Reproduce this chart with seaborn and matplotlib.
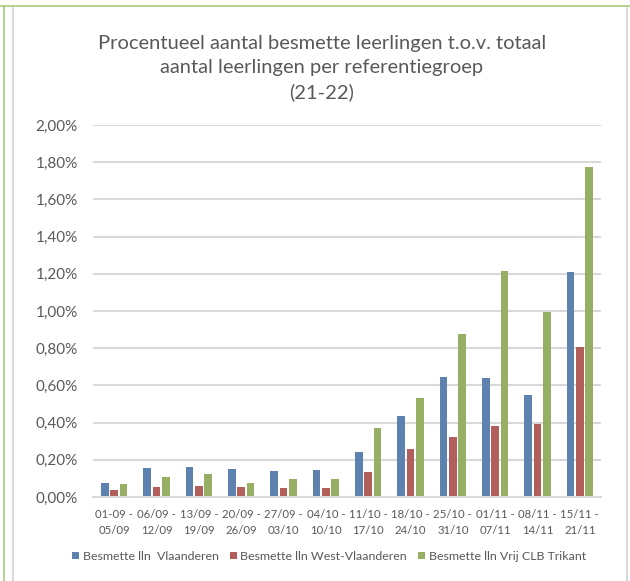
import pandas as pd
import matplotlib
matplotlib.use('Agg')
import matplotlib.pyplot as plt
import seaborn as sns
from matplotlib.lines import Line2D
from matplotlib.ticker import FuncFormatter, MultipleLocator

# data (percent)
weeks = ['01-09 -\n05/09', '06/09 -\n12/09', '13/09 -\n19/09', '20/09 -\n26/09',
         '27/09 -\n03/10', '04/10 -\n10/10', '11/10 -\n17/10', '18/10 -\n24/10',
         '25/10 -\n31/10', '01/11 -\n07/11', '08/11 -\n14/11', '15/11 -\n21/11']
series = ['Besmette lln  Vlaanderen', 'Besmette lln West-Vlaanderen',
          'Besmette lln Vrij CLB Trikant']
vlaanderen = [0.075, 0.154, 0.163, 0.152, 0.140, 0.143, 0.243, 0.437, 0.645, 0.641, 0.548, 1.208]
west_vl = [0.036, 0.054, 0.057, 0.052, 0.048, 0.048, 0.133, 0.256, 0.322, 0.380, 0.390, 0.806]
trikant = [0.070, 0.106, 0.126, 0.077, 0.095, 0.095, 0.372, 0.530, 0.878, 1.217, 0.997, 1.772]
colors = ['#4F81BD', '#C0504D', '#9BBB59']

rows = []
for name, vals in zip(series, [vlaanderen, west_vl, trikant]):
    for w, v in zip(weeks, vals):
        rows.append({'week': w, 'serie': name, 'pct': v})
df = pd.DataFrame(rows)

sns.set_style('white')
plt.rcParams['font.family'] = ['Lato', 'DejaVu Sans']
txt = '#595959'

fig = plt.figure(figsize=(6.3, 5.81), dpi=100)
ax = fig.add_axes([93 / 630, 1 - 497 / 581, 508 / 630, 372 / 581])

sns.barplot(data=df, x='week', y='pct', hue='serie', palette=colors,
            order=weeks, hue_order=series, width=0.66, gap=0.16,
            linewidth=0, ax=ax)

ax.set_ylim(0, 2.0)
ax.set_xlim(-0.5, len(weeks) - 0.5)
ax.yaxis.set_major_locator(MultipleLocator(0.2))
ax.yaxis.set_major_formatter(FuncFormatter(lambda v, p: f"{v:.2f}%".replace('.', ',')))
ax.grid(axis='y', color='#D9D9D9', linewidth=1.5)
ax.set_axisbelow(True)
for s in ['top', 'right', 'left']:
    ax.spines[s].set_visible(False)
ax.spines['bottom'].set_color('#D9D9D9')
ax.spines['bottom'].set_linewidth(1.5)
ax.tick_params(axis='y', length=0, pad=11, labelsize=11, labelcolor=txt)
ax.tick_params(axis='x', length=0, pad=9, labelsize=8.2, labelcolor=txt)
for t in ax.get_xticklabels():
    t.set_linespacing(1.5)
ax.set_xlabel('')
ax.set_ylabel('')

sns.move_legend(ax, 'upper center', bbox_to_anchor=(329 / 630, 1 - 540 / 581),
                bbox_transform=fig.transFigure, ncol=3, frameon=False, title=None,
                fontsize=8.9, handlelength=0.55, handleheight=0.55, handletextpad=0.3,
                columnspacing=0.9, labelcolor=txt)

# title
title_lines = ['Procentueel aantal besmette leerlingen t.o.v. totaal',
               'aantal leerlingen per referentiegroep', '(21-22)']
for i, line in enumerate(title_lines):
    fig.text(322 / 630, 1 - (44 + 24 * i) / 581, line,
             ha='center', va='center', fontsize=14.5, color=txt)

# page / chart borders
fig.add_artist(Line2D([0, 1], [1 - 6 / 581, 1 - 6 / 581], color='#A9CC7A', lw=1.2))
fig.add_artist(Line2D([4 / 630, 4 / 630], [0, 1 - 6 / 581], color='#A9CC7A', lw=1.2))
fig.add_artist(Line2D([13 / 630, 13 / 630], [0, 1 - 8 / 581], color='#D9D9D9', lw=1.5))
fig.add_artist(Line2D([627 / 630, 627 / 630], [0, 1 - 8 / 581], color='#D9D9D9', lw=1.5))

fig.savefig('out.png', dpi=100, facecolor='white')
